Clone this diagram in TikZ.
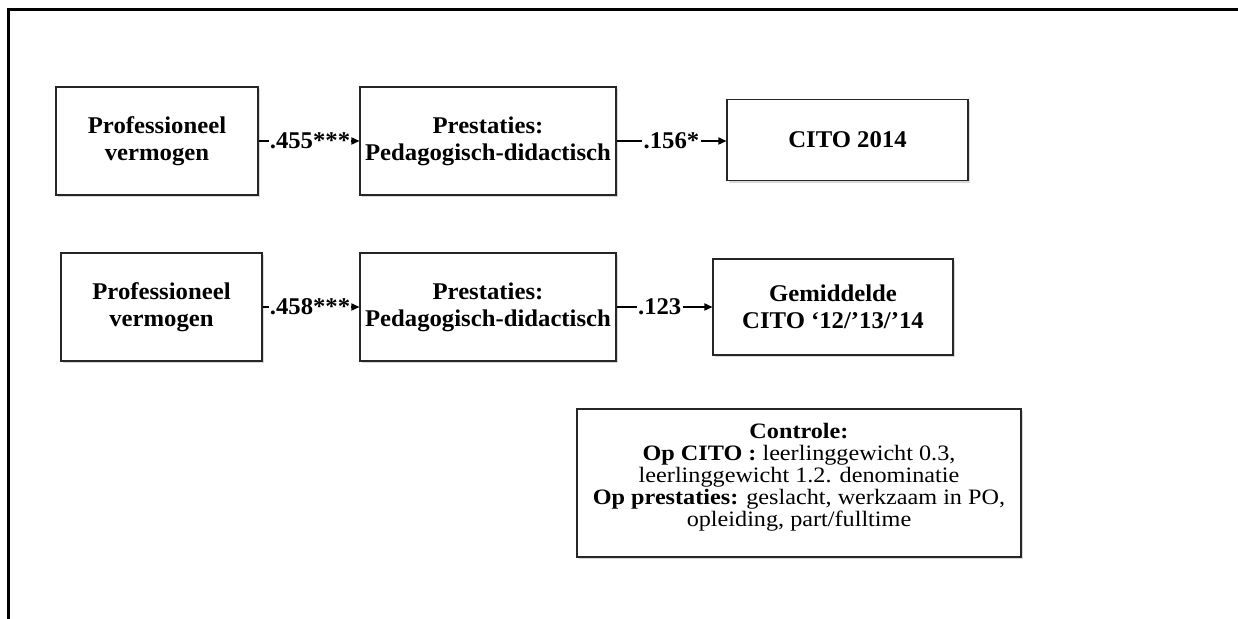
\documentclass[tikz,border=0pt]{standalone}
\usepackage{fontspec}
\setmainfont{Liberation Serif}[FakeStretch=1.03]
\newfontfamily\ctrlfont{Liberation Serif}[FakeStretch=1.1]
\usetikzlibrary{arrows.meta,shadows}
\begin{document}
\begin{tikzpicture}[x=0.5pt,y=-0.5pt,
  box/.style={draw=black!85, line width=0.6pt, fill=white, inner sep=0pt, align=center,
    font=\bfseries\fontsize{12}{13.5}\selectfont,
    drop shadow={shadow xshift=1.2pt, shadow yshift=-1.2pt, fill=black!30, opacity=0.5}},
  lbl/.style={fill=white, inner sep=0.6pt, font=\bfseries\fontsize{12}{13.5}\selectfont},
  conn/.style={line width=0.6pt, -{Triangle[length=4pt,width=3.6pt]}},
  frame/.style={line width=1.6pt, black},
]
\useasboundingbox (0,0) rectangle (1238,619);
% outer frame (top and left edges)
\coordinate (ftr) at (1238,9.5);
\coordinate (ftl) at (8.5,9.5);
\coordinate (fbl) at (8.5,619);
\draw[frame] (ftr) -- (ftl) -- (fbl);

% row 1
\node[box, minimum width=101pt, minimum height=54pt] (b1) at (157,141) {Professioneel\\vermogen};
\node[box, minimum width=128pt, minimum height=54pt] (b2) at (488,141) {Prestaties:\\Pedagogisch-didactisch};
\node[box, minimum width=120.5pt, minimum height=40.5pt] (b3) at (847.5,140) {CITO 2014};

% row 2
\node[box, minimum width=100.5pt, minimum height=54pt] (b4) at (161.5,307) {Professioneel\\vermogen};
\node[box, minimum width=128pt, minimum height=54pt] (b5) at (488,307) {Prestaties:\\Pedagogisch-didactisch};
\node[box, minimum width=120pt, minimum height=48pt] (b6) at (833,307) {Gemiddelde\\CITO ‘12/’13/’14};

% connectors
\draw[conn] (b1.east) -- node[lbl, pos=0.51] (l1) {.455***} (b2.west);
\draw[conn] (b2.east) -- node[lbl, pos=0.5] (l2) {.156*} (b2.east -| b3.west);
\draw[conn] (b4.east) -- node[lbl, pos=0.49] (l3) {.458***} (b5.west);
\draw[conn] (b5.east) -- node[lbl, pos=0.45] (l4) {.123} (b5.east -| b6.west);

% control box
\node[box, minimum width=222pt, minimum height=74pt] (ctrl) at (799,483) {};
\node[anchor=north, align=center, inner sep=0pt,
  font=\ctrlfont\fontsize{11}{11}\selectfont] (ctrltext) at ([yshift=-7pt]ctrl.north)
  {\textbf{Controle:}\\
   \textbf{Op CITO :} leerlinggewicht 0.3,\\
   leerlinggewicht 1.2. denominatie\\
   \textbf{Op prestaties:} geslacht, werkzaam in PO,\\
   opleiding, part/fulltime};
\end{tikzpicture}
\end{document}
